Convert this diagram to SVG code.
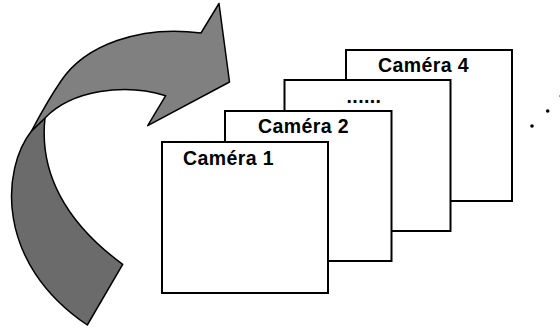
<svg xmlns="http://www.w3.org/2000/svg" width="560" height="328" viewBox="0 0 560 328">
<style>
.box{fill:#fff;stroke:#000;stroke-width:2}
.lbl{font-family:"Liberation Sans",Arial,sans-serif;font-weight:bold;font-size:19.5px;fill:#000;letter-spacing:0.4px}
.band{stroke:#000;stroke-width:1.5;stroke-linejoin:round}
</style>
<g id="arrow">
<path class="band" fill="#6b6b6b" d="M31.5,131 C2,168 -6,262 87.3,325 L122.7,264.3 C65,222 39,172 45,118 Z"/>
<path class="band" fill="#808080" d="M31.5,131 C40,115 50,97 61,81 C85,45 140,25 201,33 L219,3.5 L229.5,82 L147.7,125.7 L165.7,95.7 C125,83 72,90 45,118 Z"/>
</g>
<g id="camera4">
<rect class="box" x="346" y="50" width="166" height="151"/>
<text class="lbl" x="378" y="72">Caméra 4</text>
</g>
<g id="camera3">
<rect class="box" x="284.5" y="80" width="166" height="151"/>
<text class="lbl" x="346.5" y="103">......</text>
</g>
<g id="camera2">
<rect class="box" x="225" y="111" width="166.5" height="150"/>
<text class="lbl" x="258" y="133">Caméra 2</text>
</g>
<g id="camera1">
<rect class="box" x="162" y="142" width="166" height="151"/>
<text class="lbl" x="183" y="165">Caméra 1</text>
</g>
<g id="more">
<circle cx="532" cy="126" r="1.8" fill="#000"/>
<circle cx="547.7" cy="111" r="1.8" fill="#000"/>
<circle cx="560.5" cy="96" r="1.4" fill="#888"/>
</g>
</svg>
